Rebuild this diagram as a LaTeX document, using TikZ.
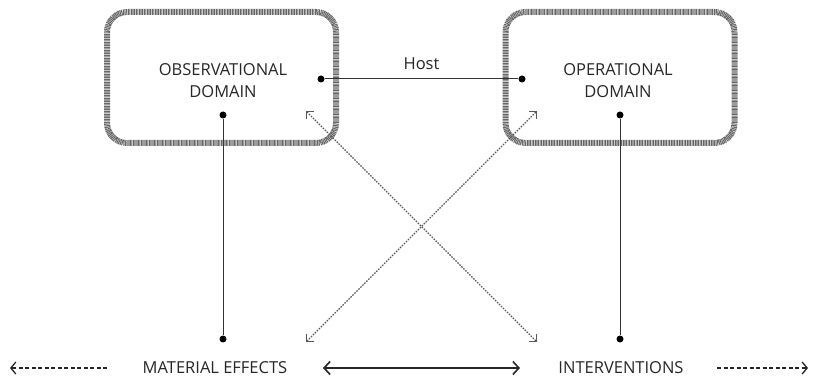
\documentclass[tikz,border=0pt]{standalone}
\usepackage{fontspec}
\setmainfont{Open Sans}
\usetikzlibrary{arrows.meta}
\tikzset{
  domainbox/.style={draw=black!60, line width=6pt, dash pattern=on 1pt off 0.6pt, rounded corners=20pt, minimum width=229pt, minimum height=131pt, inner sep=0pt},
  lbl/.style={font=\fontsize{16.5}{22}\selectfont, text=black!85, align=center, inner sep=0pt},
  dot/.style={circle, fill=black, inner sep=0pt, minimum size=7pt},
  solidline/.style={draw=black!80, line width=1pt},
  dottedarrow/.style={draw=black!65, line width=1.1pt, dash pattern=on 1.6pt off 1.2pt, {Straight Barb[length=5pt,width=10pt]}-{Straight Barb[length=5pt,width=10pt]}},
  mainarrow/.style={draw=black!85, line width=1.6pt, {Straight Barb[length=6pt,width=13pt]}-{Straight Barb[length=6pt,width=13pt]}},
  outarrow/.style={draw=black!85, line width=1.3pt, dash pattern=on 4pt off 2.5pt, -{Straight Barb[length=5pt,width=12pt]}}
}
\begin{document}
\begin{tikzpicture}[x=1pt,y=-1pt]
\useasboundingbox (0,0) rectangle (819,379);
% boxes
\node[domainbox] (obsbox) at (221.5,77.5) {};
\node[domainbox] (opbox) at (620,77.5) {};
\node[lbl] (obs) at (223,81) {OBSERVATIONAL\\DOMAIN};
\node[lbl] (op) at (618,81) {OPERATIONAL\\DOMAIN};
% dots
\node[dot] (hl) at (321,79) {};
\node[dot] (hr) at (522,79) {};
\node[dot] (obsd) at (223,115) {};
\node[dot] (opd) at (620,115) {};
\node[dot] (med) at (223,339) {};
\node[dot] (ind) at (620,339) {};
% host
\draw[solidline] (hl) -- node[lbl, above=9pt] (host) {Host} (hr);
\draw[solidline] (obsd) -- (med);
\draw[solidline] (opd) -- (ind);
% bottom labels
\node[lbl] (me) at (215,368) {MATERIAL EFFECTS};
\node[lbl] (iv) at (621,368) {INTERVENTIONS};
\coordinate (a1s) at (323,368);
\coordinate (a1e) at (520,368);
\draw[mainarrow] (a1s) -- (a1e);
\coordinate (l1) at (107,368);
\coordinate (l2) at (10,368);
\draw[outarrow] (l1) -- (l2);
\coordinate (r1) at (717,368);
\coordinate (r2) at (808,368);
\draw[outarrow] (r1) -- (r2);
% crossing dotted arrows
\coordinate (d1a) at (306,342);
\coordinate (d1b) at (537,111);
\coordinate (d2a) at (306,111);
\coordinate (d2b) at (537,342);
\draw[dottedarrow] (d1a) -- (d1b);
\draw[dottedarrow] (d2a) -- (d2b);
\end{tikzpicture}
\end{document}
